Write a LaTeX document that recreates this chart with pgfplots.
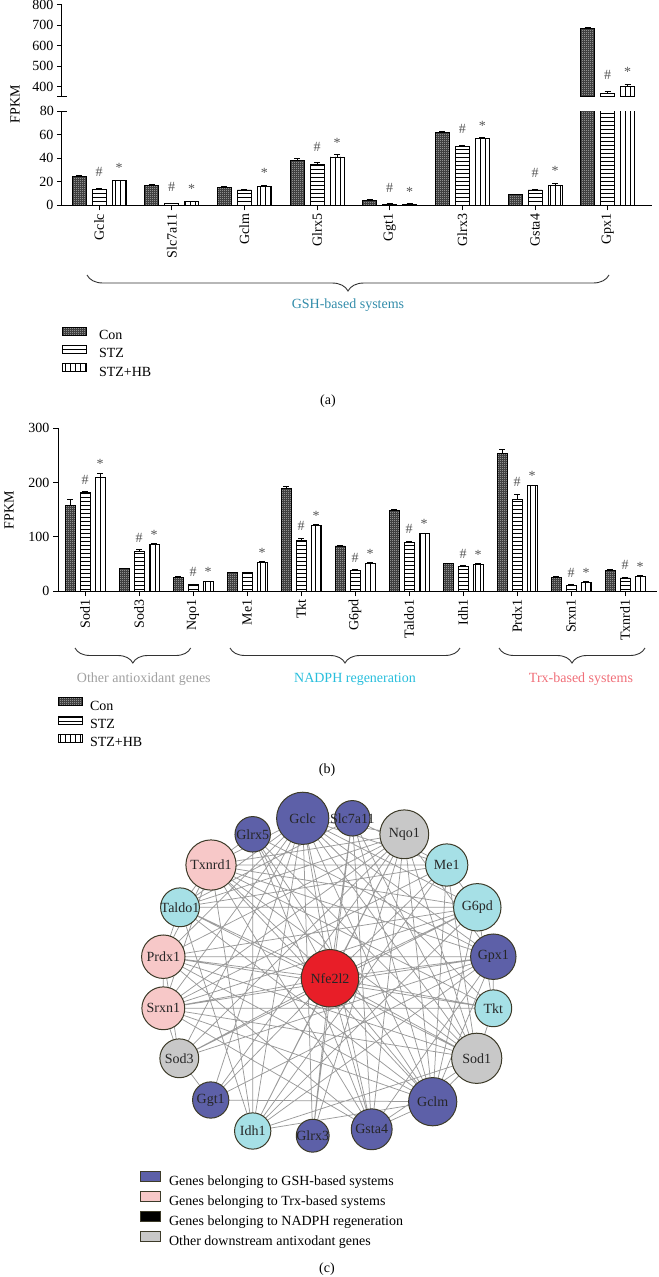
\documentclass[border=0pt]{standalone}
\usepackage{fontspec}
\setmainfont{Liberation Serif}
\usepackage{pgfplots}
\pgfplotsset{compat=1.18}
\usepackage{pgfplotstable}
\usetikzlibrary{patterns,decorations.pathreplacing}

\definecolor{gsh}{RGB}{93,96,168}
\definecolor{trx}{RGB}{247,200,200}
\definecolor{nadph}{RGB}{166,224,230}
\definecolor{oth}{RGB}{200,200,200}
\definecolor{nfe}{RGB}{232,30,40}
\definecolor{nborder}{RGB}{60,58,40}
\definecolor{edgec}{RGB}{155,155,155}
\definecolor{gshtxt}{RGB}{50,140,170}
\definecolor{othtxt}{RGB}{160,160,160}
\definecolor{nadtxt}{RGB}{40,190,220}
\definecolor{trxtxt}{RGB}{240,110,120}
\definecolor{sig}{RGB}{85,85,85}

\newcommand\fs{\fontsize{14bp}{16bp}\selectfont}

\pgfdeclarepatternformonly{dots4}{\pgfqpoint{0bp}{0bp}}{\pgfqpoint{2bp}{2bp}}{\pgfqpoint{2bp}{2bp}}{%
  \pgfpathrectangle{\pgfqpoint{0bp}{0bp}}{\pgfqpoint{1bp}{1bp}}%
  \pgfusepath{fill}}
\pgfdeclarepatternformonly{hl}{\pgfqpoint{-1bp}{-1bp}}{\pgfqpoint{101bp}{1bp}}{\pgfqpoint{100bp}{4bp}}{%
  \pgfsetlinewidth{0.8bp}\pgfpathmoveto{\pgfqpoint{-1bp}{0bp}}\pgfpathlineto{\pgfqpoint{101bp}{0bp}}\pgfusepath{stroke}}
\pgfdeclarepatternformonly{vl}{\pgfqpoint{-1bp}{-1bp}}{\pgfqpoint{1bp}{101bp}}{\pgfqpoint{5bp}{100bp}}{%
  \pgfsetlinewidth{0.8bp}\pgfpathmoveto{\pgfqpoint{0bp}{-1bp}}\pgfpathlineto{\pgfqpoint{0bp}{101bp}}\pgfusepath{stroke}}

\pgfplotsset{
  barleg/.style={legend image code/.code={\draw[##1,/tikz/.cd,line width=0.9bp] (0bp,0.5bp) rectangle (24bp,8.5bp);}},
  errs/.style={error bars/.cd, y dir=plus, y explicit,
    error bar style={line width=0.9bp,black,solid},
    error mark options={rotate=90,mark size=3bp,line width=0.9bp,black}},
  conbar/.style={ybar, bar width=#1, bar shift=0pt, draw=black, line width=0.9bp,
    fill=black!75, postaction={pattern=dots4, pattern color=white}, barleg, errs},
  stzbar/.style={ybar, bar width=#1, bar shift=0pt, draw=black, line width=0.9bp,
    fill=white, postaction={pattern=hl, pattern color=black}, barleg, errs},
  hbbar/.style={ybar, bar width=#1, bar shift=0pt, draw=black, line width=0.9bp,
    fill=white, postaction={pattern=vl, pattern color=black}, barleg, errs},
  baseax/.style={scale only axis, axis line style={-,line width=1bp},
    tick style={line width=1bp,black}, tick align=outside, major tick length=5bp,
    tick label style={font=\fs}, /pgf/number format/assume math mode=true,
    legend style={draw=none, fill=none, font=\fs, legend cell align=left, inner sep=0pt,
      row sep=2bp, nodes={inner sep=2bp}}},
  sigl/.style={draw=none, mark=none, forget plot, nodes near coords={#1},
    every node near coord/.append style={font=\fs, text=sig}},
}

\pgfplotstableread{
x con ce stz se hb he
0 24.8 0.8 13.5 0.8 20.8 0.5
1 17.0 0.4 1.5 0.3 3.0 0.3
2 14.9 0.8 13.0 0.8 16.2 0.6
3 38.2 1.2 35.0 1.0 41.0 1.8
4 4.5 0.3 1.0 0.2 1.0 0.2
5 61.5 1.5 49.7 1.5 56.8 0.6
6 9.2 0.3 13.0 0.5 17.0 1.5
7 685 2 368 10 401 10
}\tabA
\pgfplotstableread{
x con ce stz se hb he
7 685 2 368 10 401 10
}\tabAtop
\pgfplotstableread{
x con ce stz se hb he
0 157 12 181 2 210 7
1 41 1 73 3 86 1.5
2 25 1.5 12 1 17 1
3 34 1 34 1 53 1
4 189 4 94 3 121 1
5 83 1.5 38 1.5 51 1
6 148 3 89 3 106 1
7 50 1.5 45 1.5 49 1
8 254 7 168 10 194 1.5
9 25 1 10 1.5 16 1
10 38 1.5 24 1 27 1
}\tabB

\begin{document}
\begin{tikzpicture}
\useasboundingbox (0,0) rectangle (659bp,-1277bp);

% ---------- (a) upper part ----------
\begin{axis}[baseax, at={(62bp,-4.7bp)}, anchor=north west, width=590bp, height=92.2bp,
  xmin=-0.51, xmax=7.61, ymin=350, ymax=800,
  hide x axis, xtick=\empty, axis y line*=left,
  ytick={400,500,600,700,800},
  after end axis/.code={\draw[line width=1bp] (axis cs:-0.51,350) ++(-4.5bp,0) -- ++(9bp,0);}]
\addplot[conbar=14bp] table[x expr=\thisrow{x}-0.2753,y=con,y error=ce]{\tabAtop};
\addplot[stzbar=14bp] table[x=x,y=stz,y error=se]{\tabAtop};
\addplot[hbbar=14bp] table[x expr=\thisrow{x}+0.2753,y=hb,y error=he]{\tabAtop};
\addplot[sigl={\#}, every node near coord/.append style={yshift=8bp}] coordinates {(7,378)};
\addplot[sigl={*}, every node near coord/.append style={yshift=4bp}] coordinates {(7.275,411)};
\end{axis}

% ---------- (a) lower part ----------
\begin{axis}[baseax, at={(62bp,-111bp)}, anchor=north west, width=590bp, height=94.3bp,
  xmin=-0.51, xmax=7.61, ymin=0, ymax=80,
  axis lines*=left,
  ytick={0,20,40,60}, extra y ticks={80},
  extra y tick style={tick align=center, major tick length=9bp},
  xtick={0,...,7}, xticklabels={Gclc,Slc7a11,Gclm,Glrx5,Ggt1,Glrx3,Gsta4,Gpx1},
  x tick label style={rotate=90, anchor=east},
  legend style={at={(0,-1.285)}, anchor=north west, /tikz/every odd column/.append style={column sep=10bp}}]
\addplot[conbar=14bp] table[x expr=\thisrow{x}-0.2753,y=con,y error=ce]{\tabA};
\addplot[stzbar=14bp] table[x=x,y=stz,y error=se]{\tabA};
\addplot[hbbar=14bp] table[x expr=\thisrow{x}+0.2753,y=hb,y error=he]{\tabA};
\addplot[sigl={\#}, every node near coord/.append style={yshift=8bp}] coordinates {(0,14.3) (1,1.8) (3,36) (4,1.2) (5,51.2) (6,13.5)};
\addplot[sigl={*}, every node near coord/.append style={yshift=4bp}] coordinates {(0.275,21.3) (1.275,3.3) (2.275,16.8) (3.275,42.8) (4.275,1.2) (5.275,57.4) (6.275,18.5)};
\legend{Con,STZ,STZ+HB}
\end{axis}

% ---------- (b) ----------
\begin{axis}[baseax, at={(58bp,-428.3bp)}, anchor=north west, width=599bp, height=162.7bp,
  xmin=-0.5, xmax=10.59, ymin=0, ymax=300,
  axis lines*=left,
  ytick={0,100,200,300},
  xtick={0,...,10}, xticklabels={Sod1,Sod3,Nqo1,Me1,Tkt,G6pd,Taldo1,Idh1,Prdx1,Srxn1,Txnrd1},
  x tick label style={rotate=90, anchor=east},
  legend style={at={(0,-0.652)}, anchor=north west, /tikz/every odd column/.append style={column sep=5bp}}]
\addplot[conbar=10bp] table[x expr=\thisrow{x}-0.2777,y=con,y error=ce]{\tabB};
\addplot[stzbar=10bp] table[x=x,y=stz,y error=se]{\tabB};
\addplot[hbbar=10bp] table[x expr=\thisrow{x}+0.2777,y=hb,y error=he]{\tabB};
\addplot[sigl={\#}, every node near coord/.append style={yshift=4bp}] coordinates {(0,183) (1,76) (2,13) (4,97) (5,39.5) (6,92) (7,46.5) (8,178) (9,11.5) (10,25)};
\addplot[sigl={*}, every node near coord/.append style={yshift=1bp}] coordinates {(0.278,217) (1.278,87.5) (2.278,18) (3.278,54) (4.278,122) (5.278,52) (6.278,107) (7.278,50) (8.278,195.5) (9.278,17) (10.278,28)};
\legend{Con,STZ,STZ+HB}
\end{axis}

% ---------- (c) network ----------
\begin{axis}[scale only axis, at={(0bp,-780bp)}, anchor=north west, width=659bp, height=470bp,
  xmin=0, xmax=659, ymin=-1250, ymax=-780, hide axis, clip=false,
  legend style={at={(0.2125,0.169)}, anchor=north west, draw=none, fill=none, font=\fs,
    legend cell align=left, inner sep=0pt, row sep=2bp, nodes={inner sep=2bp},
    /tikz/every odd column/.append style={column sep=6bp}}]
\addplot[edgec, line width=0.75bp, line join=round, mark=none, unbounded coords=jump, forget plot] table[row sep=\\]{
x y\\
330 -978.3\\302.7 -818.3\\330 -978.3\\352.3 -818.3\\330 -978.3\\252.7 -834.3\\330 -978.3\\404.3 -834.3\\330 -978.3\\211 -865\\330 -978.3\\446.7 -865\\330 -978.3\\180 -907.3\\330 -978.3\\477.3 -907.3\\330 -978.3\\163.3 -956.7\\330 -978.3\\493.3 -956.7\\330 -978.3\\163.3 -1008.3\\330 -978.3\\493.3 -1008.3\\330 -978.3\\179.3 -1058.3\\330 -978.3\\476.7 -1058.3\\330 -978.3\\210.7 -1100\\330 -978.3\\432.7 -1101.7\\330 -978.3\\252.7 -1131\\330 -978.3\\312.7 -1135.7\\330 -978.3\\371.7 -1129.3\\nan nan\\
302.7 -818.3\\404.3 -834.3\\302.7 -818.3\\211 -865\\302.7 -818.3\\446.7 -865\\302.7 -818.3\\180 -907.3\\302.7 -818.3\\477.3 -907.3\\302.7 -818.3\\163.3 -956.7\\302.7 -818.3\\493.3 -956.7\\302.7 -818.3\\163.3 -1008.3\\302.7 -818.3\\493.3 -1008.3\\302.7 -818.3\\179.3 -1058.3\\302.7 -818.3\\476.7 -1058.3\\302.7 -818.3\\210.7 -1100\\302.7 -818.3\\432.7 -1101.7\\302.7 -818.3\\252.7 -1131\\302.7 -818.3\\312.7 -1135.7\\302.7 -818.3\\371.7 -1129.3\\nan nan\\
404.3 -834.3\\211 -865\\404.3 -834.3\\180 -907.3\\404.3 -834.3\\163.3 -956.7\\404.3 -834.3\\163.3 -1008.3\\404.3 -834.3\\179.3 -1058.3\\404.3 -834.3\\210.7 -1100\\404.3 -834.3\\432.7 -1101.7\\404.3 -834.3\\252.7 -1131\\404.3 -834.3\\312.7 -1135.7\\404.3 -834.3\\371.7 -1129.3\\404.3 -834.3\\476.7 -1058.3\\404.3 -834.3\\493.3 -956.7\\nan nan\\
432.7 -1101.7\\211 -865\\432.7 -1101.7\\180 -907.3\\432.7 -1101.7\\163.3 -956.7\\432.7 -1101.7\\163.3 -1008.3\\432.7 -1101.7\\252.7 -834.3\\432.7 -1101.7\\352.3 -818.3\\432.7 -1101.7\\446.7 -865\\432.7 -1101.7\\477.3 -907.3\\432.7 -1101.7\\493.3 -956.7\\432.7 -1101.7\\476.7 -1058.3\\432.7 -1101.7\\371.7 -1129.3\\432.7 -1101.7\\210.7 -1100\\432.7 -1101.7\\252.7 -1131\\nan nan\\
476.7 -1058.3\\163.3 -956.7\\476.7 -1058.3\\163.3 -1008.3\\476.7 -1058.3\\211 -865\\476.7 -1058.3\\180 -907.3\\476.7 -1058.3\\446.7 -865\\476.7 -1058.3\\371.7 -1129.3\\476.7 -1058.3\\252.7 -1131\\476.7 -1058.3\\352.3 -818.3\\476.7 -1058.3\\252.7 -834.3\\nan nan\\
493.3 -956.7\\163.3 -956.7\\493.3 -956.7\\163.3 -1008.3\\493.3 -956.7\\179.3 -1058.3\\493.3 -956.7\\252.7 -1131\\493.3 -956.7\\211 -865\\493.3 -956.7\\252.7 -834.3\\493.3 -956.7\\371.7 -1129.3\\493.3 -956.7\\210.7 -1100\\493.3 -956.7\\493.3 -1008.3\\nan nan\\
493.3 -1008.3\\211 -865\\493.3 -1008.3\\163.3 -956.7\\493.3 -1008.3\\163.3 -1008.3\\493.3 -1008.3\\477.3 -907.3\\493.3 -1008.3\\476.7 -1058.3\\nan nan\\
477.3 -907.3\\180 -907.3\\477.3 -907.3\\163.3 -956.7\\477.3 -907.3\\163.3 -1008.3\\477.3 -907.3\\179.3 -1058.3\\477.3 -907.3\\252.7 -1131\\477.3 -907.3\\211 -865\\477.3 -907.3\\446.7 -865\\nan nan\\
211 -865\\446.7 -865\\211 -865\\163.3 -956.7\\211 -865\\163.3 -1008.3\\211 -865\\371.7 -1129.3\\211 -865\\252.7 -1131\\211 -865\\180 -907.3\\nan nan\\
163.3 -956.7\\163.3 -1008.3\\163.3 -956.7\\179.3 -1058.3\\163.3 -956.7\\371.7 -1129.3\\163.3 -956.7\\180 -907.3\\nan nan\\
163.3 -1008.3\\179.3 -1058.3\\163.3 -1008.3\\371.7 -1129.3\\nan nan\\
352.3 -818.3\\371.7 -1129.3\\352.3 -818.3\\312.7 -1135.7\\352.3 -818.3\\180 -907.3\\352.3 -818.3\\446.7 -865\\nan nan\\
252.7 -834.3\\371.7 -1129.3\\252.7 -834.3\\252.7 -1131\\252.7 -834.3\\211 -865\\nan nan\\
446.7 -865\\180 -907.3\\446.7 -865\\163.3 -1008.3\\446.7 -865\\252.7 -1131\\nan nan\\
252.7 -1131\\180 -907.3\\nan nan\\
179.3 -1058.3\\210.7 -1100\\
};
% nodes
\addplot[scatter, only marks, mark=*, forget plot, scatter/use mapped color={draw=nborder, fill=gsh},
  visualization depends on={\thisrow{r} \as \rr},
  scatter/@pre marker code/.append style={/tikz/mark size=\rr}, mark options={line width=1bp}] table{
x y r
302.7 -818.3 26.2
352.3 -818.3 17.8
252.7 -834.3 17.8
493.3 -956.7 22.8
210.7 -1100 18.2
432.7 -1101.7 24.2
312.7 -1135.7 16.5
371.7 -1129.3 20.5
};
\addplot[scatter, only marks, mark=*, forget plot, scatter/use mapped color={draw=nborder, fill=trx},
  visualization depends on={\thisrow{r} \as \rr},
  scatter/@pre marker code/.append style={/tikz/mark size=\rr}, mark options={line width=1bp}] table{
x y r
211 -865 25.2
163.3 -956.7 21.8
163.3 -1008.3 21.5
};
\addplot[scatter, only marks, mark=*, forget plot, scatter/use mapped color={draw=nborder, fill=nadph},
  visualization depends on={\thisrow{r} \as \rr},
  scatter/@pre marker code/.append style={/tikz/mark size=\rr}, mark options={line width=1bp}] table{
x y r
446.7 -865 21.2
180 -907.3 19.5
477.3 -907.3 23.8
493.3 -1008.3 18.5
252.7 -1131 18.2
};
\addplot[scatter, only marks, mark=*, forget plot, scatter/use mapped color={draw=nborder, fill=oth},
  visualization depends on={\thisrow{r} \as \rr},
  scatter/@pre marker code/.append style={/tikz/mark size=\rr}, mark options={line width=1bp}] table{
x y r
404.3 -834.3 24.5
179.3 -1058.3 19.5
476.7 -1058.3 25.2
};
\addplot[scatter, only marks, mark=*, forget plot, scatter/use mapped color={draw=nborder, fill=nfe},
  visualization depends on={\thisrow{r} \as \rr},
  scatter/@pre marker code/.append style={/tikz/mark size=\rr}, mark options={line width=1bp}] table{
x y r
330 -978.3 28.8
};
\addplot[draw=none, mark=none, forget plot, nodes near coords, point meta=explicit symbolic,
  nodes near coords align={anchor=center},
  every node near coord/.append style={font=\fs, text=black!85, inner sep=0pt}] table[meta=lbl]{
x y lbl
302.7 -818.3 Gclc
352.3 -818.3 Slc7a11
252.7 -834.3 Glrx5
404.3 -834.3 Nqo1
211 -865 Txnrd1
446.7 -865 Me1
180 -907.3 Taldo1
477.3 -907.3 G6pd
163.3 -956.7 Prdx1
493.3 -956.7 Gpx1
163.3 -1008.3 Srxn1
493.3 -1008.3 Tkt
179.3 -1058.3 Sod3
476.7 -1058.3 Sod1
210.7 -1100 Ggt1
432.7 -1101.7 Gclm
252.7 -1131 Idh1
312.7 -1135.7 Glrx3
371.7 -1129.3 Gsta4
330 -978.3 Nfe2l2
};
\addlegendimage{legend image code/.code={\draw[fill=gsh,draw=nborder,line width=0.8bp] (0bp,0bp) rectangle (20bp,10bp);}}
\addlegendentry{Genes belonging to GSH-based systems}
\addlegendimage{legend image code/.code={\draw[fill=trx,draw=nborder,line width=0.8bp] (0bp,0bp) rectangle (20bp,10bp);}}
\addlegendentry{Genes belonging to Trx-based systems}
\addlegendimage{legend image code/.code={\draw[fill=black,draw=nborder,line width=0.8bp] (0bp,0bp) rectangle (20bp,10bp);}}
\addlegendentry{Genes belonging to NADPH regeneration}
\addlegendimage{legend image code/.code={\draw[fill=oth,draw=nborder,line width=0.8bp] (0bp,0bp) rectangle (20bp,10bp);}}
\addlegendentry{Other downstream antixodant genes}
\end{axis}

% ---------- annotations ----------
\node[font=\fs, rotate=90] at (15bp,-104bp) {FPKM};
\node[font=\fs, rotate=90] at (9bp,-510bp) {FPKM};
\draw[line width=0.9bp, black!80, decorate, decoration={brace, mirror, amplitude=16bp}] (87bp,-275bp) -- (609bp,-275bp);
\node[font=\fs, text=gshtxt] at (348bp,-305bp) {GSH-based systems};
\draw[line width=0.9bp, black!80, decorate, decoration={brace, mirror, amplitude=15bp}] (75bp,-648bp) -- (190.7bp,-648bp);
\draw[line width=0.9bp, black!80, decorate, decoration={brace, mirror, amplitude=15bp}] (230bp,-648bp) -- (460bp,-648bp);
\draw[line width=0.9bp, black!80, decorate, decoration={brace, mirror, amplitude=15bp}] (499bp,-648bp) -- (645bp,-648bp);
\node[font=\fs, text=othtxt] at (143.8bp,-679bp) {Other antioxidant genes};
\node[font=\fs, text=nadtxt] at (355bp,-679bp) {NADPH regeneration};
\node[font=\fs, text=trxtxt] at (581bp,-679bp) {Trx-based systems};
\node[font=\fs] at (328bp,-401bp) {(a)};
\node[font=\fs] at (327bp,-770bp) {(b)};
\node[font=\fs] at (327bp,-1269bp) {(c)};
\end{tikzpicture}
\end{document}
